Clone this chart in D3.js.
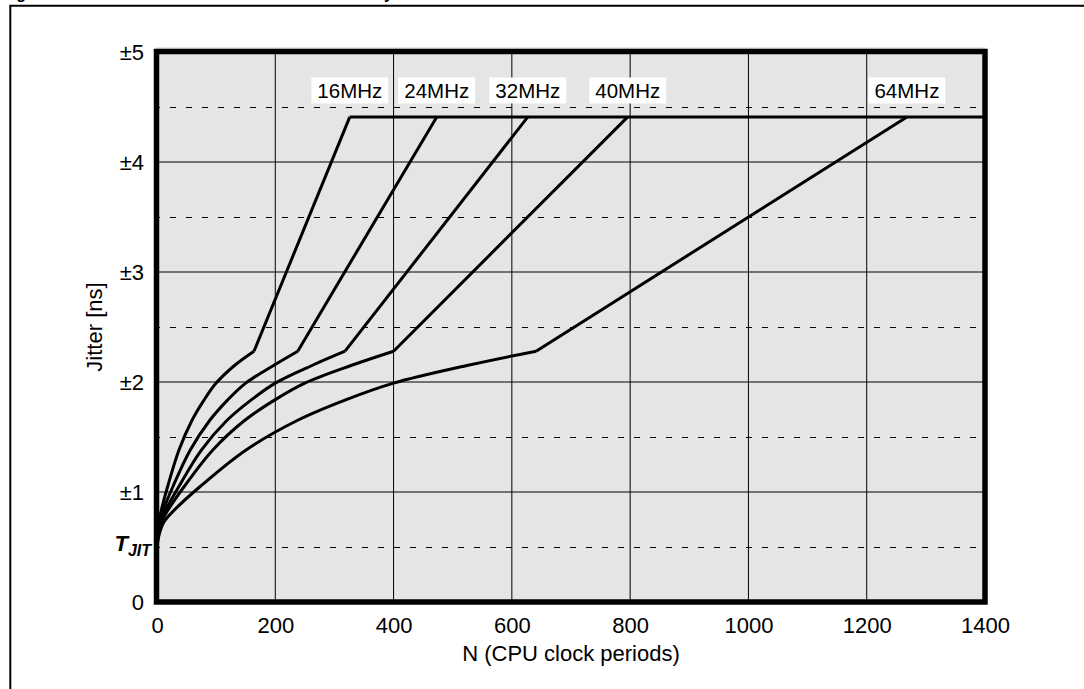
<!DOCTYPE html>
<html>
<head>
<meta charset="utf-8">
<script src="https://cdn.jsdelivr.net/npm/d3@7"></script>
<style>
  body { margin: 0; background: #fff; }
  text { font-family: "Liberation Sans", Arial, Helvetica, sans-serif; fill: #000; }
</style>
</head>
<body>
<script>
// frequency series
const freqLabels = ["16MHz", "24MHz", "32MHz", "40MHz", "64MHz"];

// N values (CPU clock periods) for each curve, from N=0 up to the knee
const n16 = [0, 1, 3, 7.5, 18, 37, 59, 80, 100, 131, 164];
const n24 = [0, 1.5, 4.5, 11, 27, 56, 89, 120, 150, 197, 238];
const n32 = [0, 2, 6, 15, 37, 75, 118, 160, 200, 262, 318];
const n40 = [0, 2.5, 7.5, 19, 46, 94, 148, 200, 250, 328, 400];
const n64 = [0, 4, 12, 30, 73, 150, 237, 320, 400, 524, 641];
// jitter [ns] at those points (same levels on every curve)
const jitterPts = [0.5, 0.62, 0.73, 0.84, 1.05, 1.38, 1.65, 1.84, 1.99, 2.15, 2.28];

// N where each curve reaches the ceiling
const topN = [326, 473, 627, 796, 1268];
const ceilingJitter = 4.41;

const xTicks = [0, 200, 400, 600, 800, 1000, 1200, 1400];
const yTicks = [0, 1, 2, 3, 4, 5];
const yTickLabels = ["0", "±1", "±2", "±3", "±4", "±5"];
const dashedLevels = [0.5, 1.5, 2.5, 3.5, 4.5];

const series = [n16, n24, n32, n40, n64];

const W = 1084, H = 689;
const svg = d3.select("body").append("svg").attr("width", W).attr("height", H);

// figure title (cut by the top edge, as in the source) + frame
svg.append("text")
  .attr("x", 2).attr("y", -1.5)
  .style("font-weight", "bold").style("font-size", "16px")
  .text("Figure 21. Total accumulated CPU clock inaccuracy");

svg.append("path")
  .attr("d", `M10.3,${H} V5.8 H${W}`)
  .attr("fill", "none").attr("stroke", "#000").attr("stroke-width", 2);

const x = d3.scaleLinear().domain([0, 1400]).range([157, 985]);
const y = d3.scaleLinear().domain([0, 5]).range([602, 52]);

// plot background (slightly shifted, peeks above the frame)
svg.append("rect")
  .attr("x", 156).attr("y", 47)
  .attr("width", 829).attr("height", 555)
  .attr("fill", "#e5e5e5");

// grid
const grid = svg.append("g");
grid.selectAll(".vgrid")
  .data(xTicks.slice(1, -1))
  .join("line")
  .attr("x1", d => x(d)).attr("x2", d => x(d))
  .attr("y1", y(5)).attr("y2", y(0))
  .attr("stroke", "#000").attr("stroke-width", 1);

grid.selectAll(".hgrid")
  .data(yTicks.slice(1, -1))
  .join("line")
  .attr("x1", x(0)).attr("x2", x(1400))
  .attr("y1", d => y(d)).attr("y2", d => y(d))
  .attr("stroke", "#000").attr("stroke-width", 1);

grid.selectAll(".dgrid")
  .data(dashedLevels)
  .join("line")
  .attr("x1", x(0)).attr("x2", x(1400))
  .attr("y1", d => y(d) + 0.5).attr("y2", d => y(d) + 0.5)
  .attr("stroke", "#000").attr("stroke-width", 1)
  .attr("stroke-dasharray", "6,10")
  .attr("stroke-dashoffset", 3);

// curves
const curveLine = d3.line()
  .x(d => x(d[0])).y(d => y(d[1]))
  .curve(d3.curveCatmullRom.alpha(0.5));
const straight = d3.line().x(d => x(d[0])).y(d => y(d[1]));

const curves = svg.append("g")
  .attr("fill", "none").attr("stroke", "#000")
  .attr("stroke-width", 3).attr("stroke-linejoin", "miter");

series.forEach((ns, i) => {
  const pts = ns.map((n, j) => [n, jitterPts[j]]);
  curves.append("path").attr("d", curveLine(pts));
  const knee = pts[pts.length - 1];
  curves.append("path").attr("d", straight([knee, [topN[i], ceilingJitter]]));
});

curves.append("path")
  .attr("d", straight([[d3.min(topN), ceilingJitter], [1400, ceilingJitter]]));

// frequency labels
const labels = svg.append("g");
freqLabels.forEach((lab, i) => {
  const g = labels.append("g");
  const t = g.append("text")
    .attr("x", x(topN[i])).attr("y", y(4.65) + 7.5)
    .attr("text-anchor", "middle")
    .style("font-size", "20.5px")
    .text(lab);
  const bb = t.node().getBBox();
  g.insert("rect", "text")
    .attr("x", bb.x - 6).attr("y", y(4.65) - 13)
    .attr("width", bb.width + 12).attr("height", 26)
    .attr("fill", "#fff");
});

// plot frame
svg.append("rect")
  .attr("x", 156.5).attr("y", 51.5)
  .attr("width", 985 - 156.5).attr("height", 602 - 51.5)
  .attr("fill", "none").attr("stroke", "#000").attr("stroke-width", 5.5);

// axes (labels only)
const xAxis = svg.append("g")
  .attr("transform", `translate(0,${y(0) + 12})`)
  .call(d3.axisBottom(x).tickValues(xTicks).tickSize(0).tickFormat(d3.format("d")));
xAxis.select(".domain").remove();
xAxis.selectAll("text")
  .attr("dy", "0.71em")
  .style("font-size", "22px").style("font-family", "'Liberation Sans', Arial, sans-serif");

const yAxis = svg.append("g")
  .attr("transform", `translate(${x(0) - 10},0)`)
  .call(d3.axisLeft(y).tickValues(yTicks).tickSize(0).tickFormat((d, i) => yTickLabels[i]));
yAxis.select(".domain").remove();
yAxis.selectAll("text")
  .attr("dy", "0.36em")
  .style("font-size", "22px").style("font-family", "'Liberation Sans', Arial, sans-serif");

// T_JIT label
const tj = svg.append("text")
  .attr("x", 151).attr("y", y(0.5) + 4)
  .attr("text-anchor", "end")
  .style("font-weight", "bold").style("font-style", "italic");
tj.append("tspan").style("font-size", "22px").text("T");
tj.append("tspan").style("font-size", "16px").attr("dy", 5).text("JIT");

// axis titles
svg.append("text")
  .attr("x", (x(0) + x(1400)) / 2).attr("y", 661)
  .attr("text-anchor", "middle")
  .style("font-size", "22px")
  .text("N (CPU clock periods)");

svg.append("text")
  .attr("transform", `translate(102,${(y(0) + y(5)) / 2}) rotate(-90)`)
  .attr("text-anchor", "middle")
  .style("font-size", "22px")
  .text("Jitter [ns]");
</script>
</body>
</html>
